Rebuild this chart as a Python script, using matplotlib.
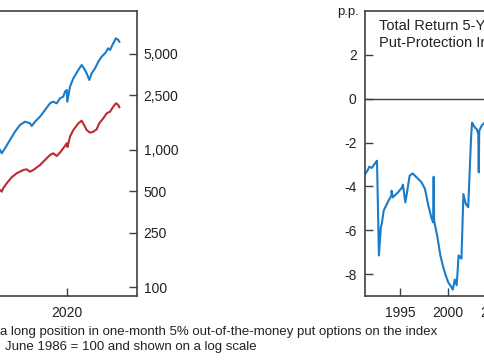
import numpy as np
import matplotlib.pyplot as plt
from matplotlib.ticker import FixedLocator, FuncFormatter

plt.rcParams['font.family'] = ['Liberation Sans', 'DejaVu Sans']
plt.rcParams['axes.unicode_minus'] = False

# left panel: index levels (June 1986 = 100), log scale
years_blue = [2013.02, 2013.20, 2013.54, 2014.06, 2014.58, 2015.10, 2015.63, 2016.15, 2016.32, 2016.67,
              2017.19, 2017.71, 2018.23, 2018.54, 2018.93, 2019.27, 2019.61, 2019.79, 2019.97, 2020.03,
              2020.31, 2020.66, 2021.18, 2021.53, 2021.77, 2022.05, 2022.32, 2022.57, 2022.92, 2023.26,
              2023.61, 2023.96, 2024.30, 2024.48, 2024.82, 2025.10, 2025.34, 2025.45]
index_blue = [997, 943, 1025, 1178, 1354, 1515, 1601, 1558, 1490, 1601,
              1741, 1948, 2179, 2238, 2179, 2369, 2433, 2646, 2722, 2238,
              2876, 3311, 3805, 4137, 3914, 3601, 3219, 3601, 3914, 4372,
              4754, 5032, 5472, 5319, 5951, 6470, 6290, 6110]
years_red = [2013.02, 2013.20, 2013.36, 2013.72, 2014.24, 2014.76, 2015.45, 2015.80, 2016.15, 2016.49,
             2017.19, 2017.71, 2018.23, 2018.57, 2018.93, 2019.27, 2019.61, 2019.97, 2020.05, 2020.31,
             2020.66, 2021.18, 2021.53, 2021.77, 2022.05, 2022.40, 2022.74, 2023.09, 2023.36, 2023.78,
             2024.14, 2024.48, 2024.82, 2025.10, 2025.34, 2025.45]
index_red = [510, 496, 525, 571, 631, 675, 713, 721, 693, 713,
             775, 843, 917, 943, 901, 955, 1025, 1115, 1048, 1245,
             1393, 1558, 1628, 1515, 1393, 1331, 1354, 1409, 1558, 1695,
             1843, 1893, 2058, 2179, 2118, 2038]

# right panel: total return 5-year difference, p.p.
years_diff = [1991.35, 1991.6, 1991.8, 1992.05, 1992.4, 1992.6, 1992.8, 1993.0, 1993.1, 1993.3,
              1993.8, 1994.1, 1994.12, 1994.25, 1994.8, 1995.2, 1995.3, 1995.55, 1995.7, 1996.0,
              1996.3, 1996.55, 1996.9, 1997.25, 1997.6, 1997.95, 1998.3, 1998.45, 1998.5, 1998.55,
              1998.9, 1999.2, 1999.45, 1999.7, 2000.0, 2000.3, 2000.5, 2000.7, 2000.9, 2001.1,
              2001.4, 2001.6, 2001.85, 2002.1, 2002.4, 2002.5, 2002.8, 2003.0, 2003.15, 2003.2,
              2003.25, 2003.5, 2004.0]
diff = [-3.44, -3.29, -3.10, -3.16, -2.95, -2.83, -7.15, -5.86, -5.71, -5.10,
        -4.65, -4.42, -4.20, -4.50, -4.27, -4.05, -3.92, -4.73, -4.35, -3.51,
        -3.41, -3.51, -3.66, -3.82, -4.12, -4.88, -5.48, -5.64, -3.56, -5.56,
        -6.32, -7.15, -7.60, -7.98, -8.36, -8.56, -8.71, -8.25, -8.51, -7.15,
        -7.30, -4.35, -4.80, -4.95, -1.77, -1.09, -1.32, -1.39, -1.62, -3.36,
        -1.47, -1.23, -1.0]

idx_ticks = [100, 250, 500, 1000, 2500, 5000]
diff_ticks = [-8, -6, -4, -2, 0, 2]

W, H = 485, 360
fig = plt.figure(figsize=(W / 100, H / 100), dpi=100)
spine_col = '#404040'
txt_col = '#222222'
blue = '#1a7cc8'
red = '#bf2a30'

# left panel (cut at the figure's left edge)
ax1 = fig.add_axes([0, 64 / H, 136.7 / W, 285 / H])
ax1.plot(years_blue, index_blue, color=blue, lw=1.5)
ax1.plot(years_red, index_red, color=red, lw=1.5)
ax1.set_yscale('log')
ax1.yaxis.tick_right()
ax1.yaxis.set_major_locator(FixedLocator(idx_ticks))
ax1.yaxis.set_minor_locator(FixedLocator([]))
ax1.yaxis.set_major_formatter(FuncFormatter(lambda v, p: f'{int(v):,}'))
ax1.set_xticks([2020])
ax1.set_xlim(2013.02, 2027.26)
ax1.set_ylim(86.4, 10220)
ax1.spines['left'].set_visible(False)
ax1.tick_params(axis='both', direction='in', length=6, width=1, color=spine_col,
                labelsize=10, labelcolor=txt_col)
ax1.tick_params(axis='y', pad=5)
ax1.tick_params(axis='x', pad=7)

# right panel (cut at the figure's right edge)
ax2 = fig.add_axes([365 / W, 64 / H, (2024.0 - 1991.35) * 9.6 / W, 285 / H])
ax2.plot(years_diff, diff, color=blue, lw=1.5)
ax2.axhline(0, color=spine_col, lw=1)
ax2.set_yticks(diff_ticks)
ax2.set_xticks([1995, 2000, 2005])
ax2.set_xlim(1991.35, 2024.0)
ax2.set_ylim(-9, 4)
ax2.tick_params(axis='both', direction='in', length=6, width=1, color=spine_col,
                labelsize=10, labelcolor=txt_col)
ax2.tick_params(axis='y', pad=6)
ax2.tick_params(axis='x', pad=7)

for ax in (ax1, ax2):
    for s in ax.spines.values():
        s.set_color(spine_col)
        s.set_linewidth(1.2)

fig.text(348 / W, (H - 12) / H, 'p.p.', ha='center', va='center', fontsize=9.5, color=txt_col)
fig.text(379 / W, (H - 25.7) / H, 'Total Return 5-Year', ha='left', va='center',
         fontsize=10.5, color=txt_col)
fig.text(379 / W, (H - 43) / H, 'Put-Protection Index', ha='left', va='center',
         fontsize=10.5, color=txt_col)

fig.text(0, (H - 332) / H, 'a long position in one-month 5% out-of-the-money put options on the index',
         ha='left', va='center', fontsize=9.5, color=txt_col)
fig.text(5 / W, (H - 347) / H, 'June 1986 = 100 and shown on a log scale',
         ha='left', va='center', fontsize=9.5, color=txt_col)

fig.savefig('out.png', dpi=100)
